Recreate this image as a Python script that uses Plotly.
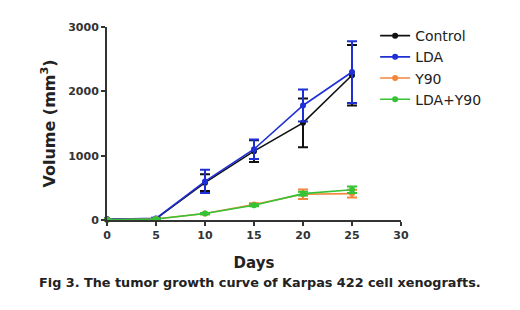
import plotly.graph_objects as go

days = [0, 5, 10, 15, 20, 25]
control = [10, 20, 580, 1070, 1510, 2250]
control_err = [5, 10, 130, 170, 380, 470]
lda = [10, 25, 600, 1100, 1780, 2300]
lda_err = [5, 10, 180, 150, 250, 480]
y90 = [5, 15, 100, 240, 400, 410]
y90_err = [2, 5, 10, 20, 75, 60]
combo = [5, 15, 100, 230, 410, 470]
combo_err = [2, 5, 10, 15, 30, 50]

series = [
    ("Control", control, control_err, "#111111"),
    ("LDA", lda, lda_err, "#1f2fd6"),
    ("Y90", y90, y90_err, "#f2873a"),
    ("LDA+Y90", combo, combo_err, "#35c335"),
]

fig = go.Figure()
for name, vals, errs, col in series:
    fig.add_trace(go.Scatter(
        x=days, y=vals, name=name, mode="lines+markers",
        line=dict(color=col, width=1.6),
        marker=dict(color=col, size=6),
        error_y=dict(type="data", array=errs, visible=True, color=col, thickness=2, width=5),
        cliponaxis=False,
    ))

tickfont = dict(family="DejaVu Sans", size=11, color="#333333", weight="bold")
fig.update_layout(
    width=520, height=310,
    margin=dict(l=99, r=127, t=19, b=98, autoexpand=False),
    paper_bgcolor="white", plot_bgcolor="white",
    showlegend=True,
    legend=dict(x=0.912, y=1.036, xanchor="left", yanchor="top",
                font=dict(family="DejaVu Sans", size=14, color="#222222"),
                tracegroupgap=0, itemwidth=30, bgcolor="rgba(0,0,0,0)"),
    xaxis=dict(range=[0, 30], tickvals=[0, 5, 10, 15, 20, 25, 30], showgrid=False, zeroline=False,
               showline=True, linecolor="#333333", linewidth=2, ticks="outside", ticklen=4,
               tickwidth=2, tickcolor="#333333", tickfont=tickfont,
               title=dict(text="<b>Days</b>", font=dict(family="DejaVu Sans", size=15, color="#222222"), standoff=16)),
    yaxis=dict(range=[0, 3000], tickvals=[0, 1000, 2000, 3000], showgrid=False, zeroline=False,
               showline=True, linecolor="#333333", linewidth=2, ticks="outside", ticklen=4,
               tickwidth=2, tickcolor="#333333", tickfont=tickfont,
               title=dict(text="<b>Volume (mm<sup>3</sup>)</b>", font=dict(family="DejaVu Sans", size=16, color="#222222"), standoff=9)),
    annotations=[dict(text="<b>Fig 3. The tumor growth curve of Karpas 422 cell xenografts.</b>",
                      xref="paper", yref="paper", x=0.52, y=-0.325, xanchor="center", yanchor="middle",
                      showarrow=False, font=dict(family="DejaVu Sans", size=12.8, color="#222222"))],
)
fig.write_html("out.html")
